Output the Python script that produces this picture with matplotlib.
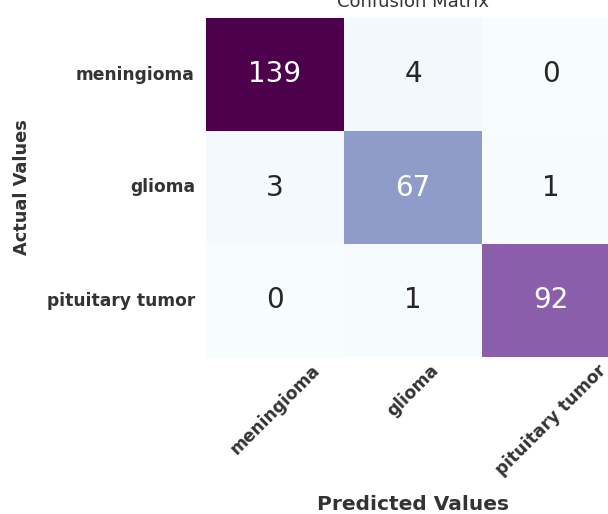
import matplotlib
matplotlib.use("Agg")
import matplotlib.pyplot as plt
import seaborn as sns
import numpy as np

# confusion matrix values
classes = ["meningioma", "glioma", "pituitary tumor"]
row_meningioma = [139, 4, 0]
row_glioma = [3, 67, 1]
row_pituitary = [0, 1, 92]

cm = np.array([row_meningioma, row_glioma, row_pituitary])

fig = plt.figure(figsize=(6.08, 5.14), dpi=100)
# axes run past the right edge like the cropped original
ax = fig.add_axes([206/608, 157/514, 414/608, 339/514])

sns.heatmap(cm, annot=True, fmt="d", cmap="BuPu", cbar=False, ax=ax,
            annot_kws={"fontsize": 20},
            xticklabels=classes, yticklabels=classes)

ax.set_title("Confusion Matrix", fontsize=13, color="#333333", pad=8)
ax.set_xlabel("Predicted Values", fontsize=14.5, fontweight="bold",
              color="#333333", labelpad=12)
ax.set_ylabel("Actual Values", fontsize=12.8, fontweight="bold",
              color="#333333", labelpad=11)
ax.tick_params(axis="y", length=0, pad=8)
ax.tick_params(axis="x", length=0, pad=3)
plt.setp(ax.get_xticklabels(), rotation=45, fontsize=12.3,
         fontweight="bold", color="#333333")
plt.setp(ax.get_yticklabels(), rotation=0, fontsize=12.3,
         fontweight="bold", color="#333333")

fig.savefig("out.png", dpi=100)
